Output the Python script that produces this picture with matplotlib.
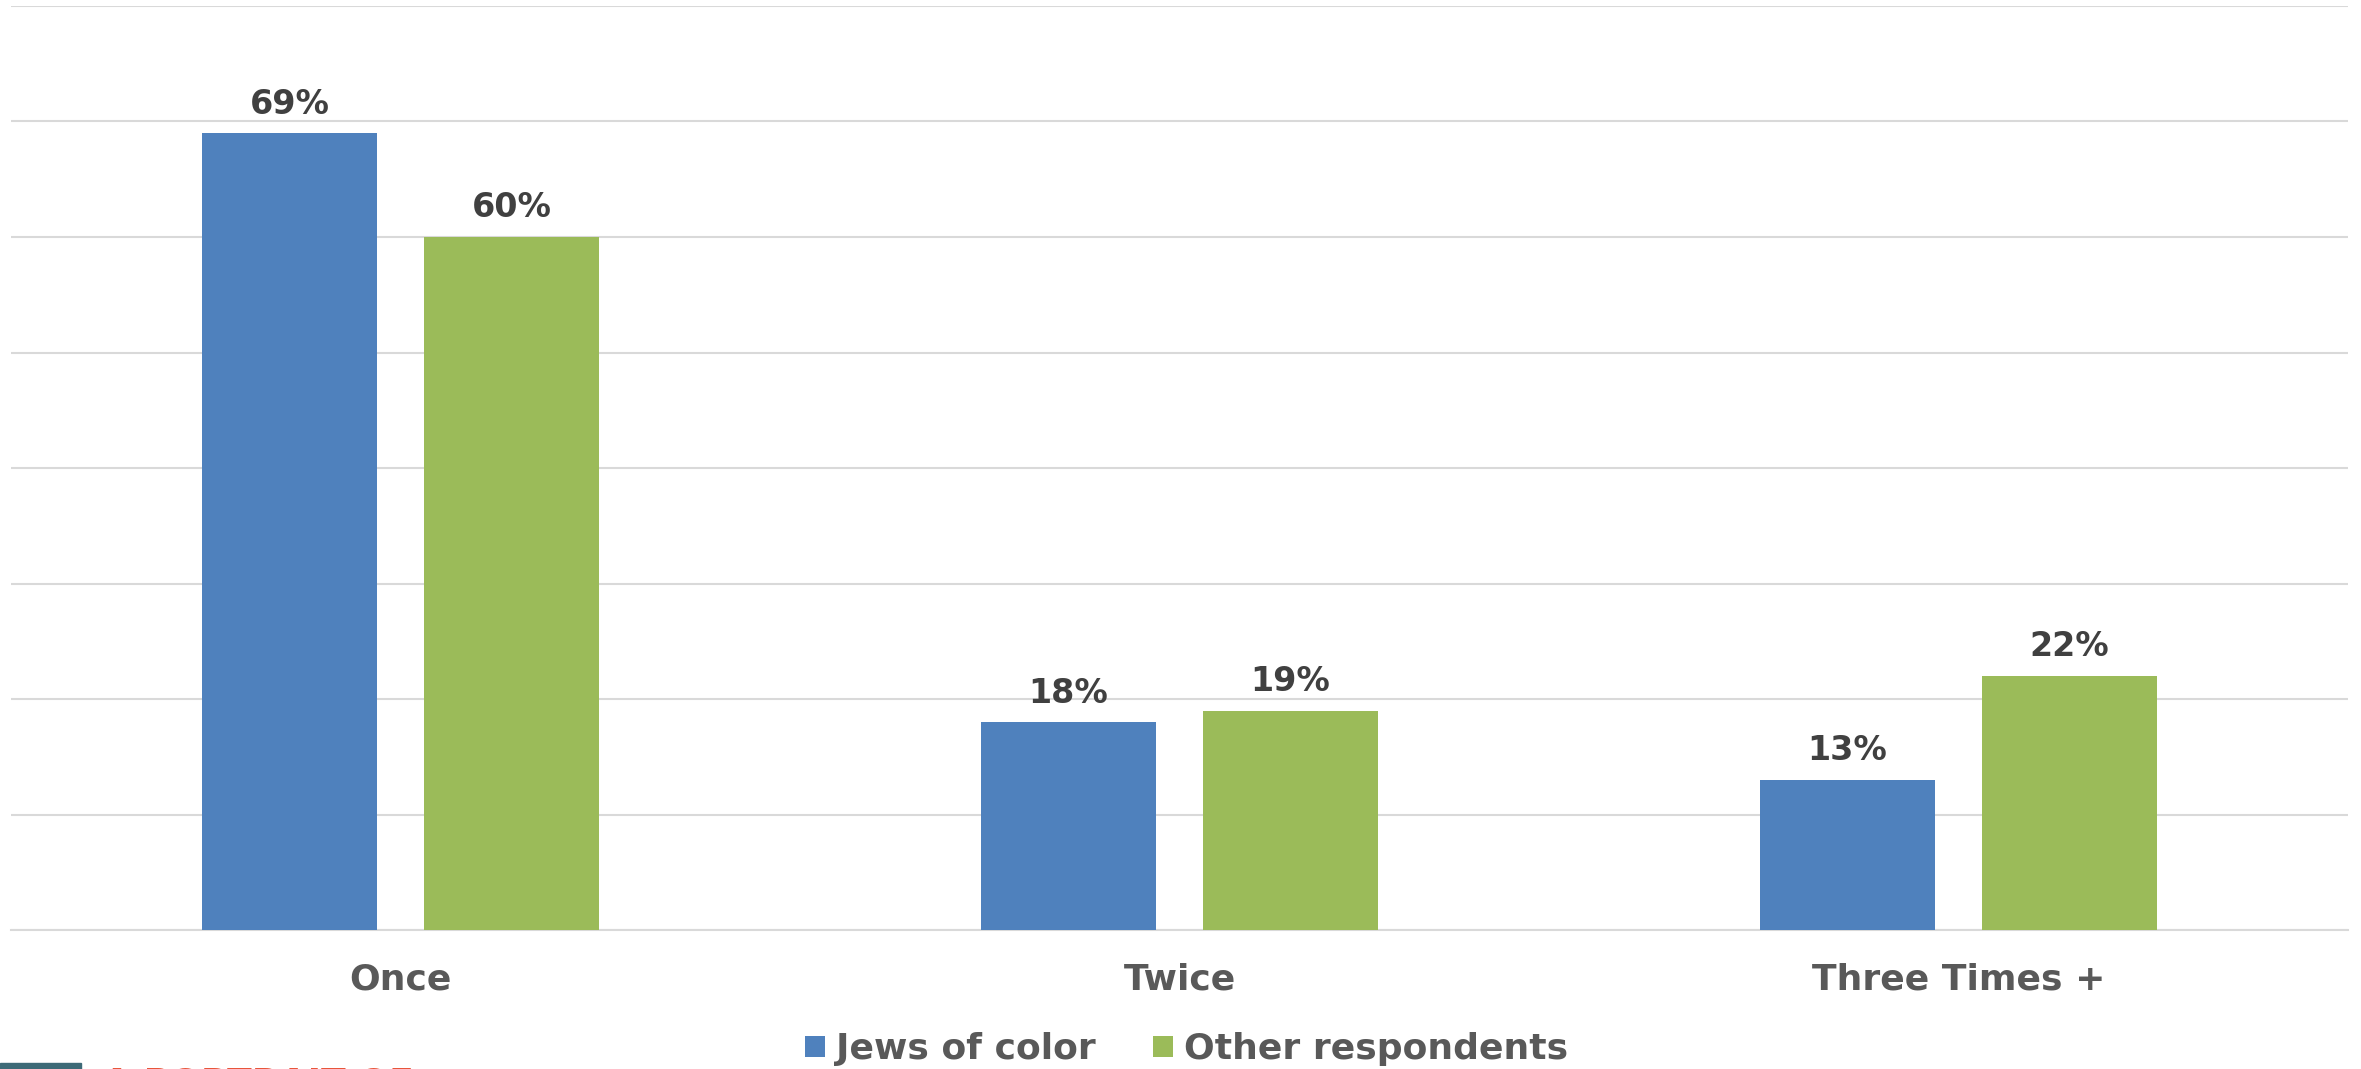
import matplotlib
matplotlib.use("Agg")
import matplotlib.pyplot as plt
import numpy as np

# data
categories = ["Once", "Twice", "Three Times +"]
series_names = ["Jews of color", "Other respondents"]
jews_of_color = [69, 18, 13]
other_respondents = [60, 19, 22]

blue = "#4F81BD"
green = "#9BBB59"
grid_col = "#D9D9D9"

plt.rcParams['font.family'] = ['DejaVu Sans']

fig = plt.figure(figsize=(23.61, 10.69), dpi=100)
ax = fig.add_axes([0.0047, 0.130, 0.9898, 0.8644])

x = np.arange(len(categories))
width = 0.225
offset = 0.1425

bars1 = ax.bar(x - offset, jews_of_color, width, color=blue, label=series_names[0], zorder=3)
bars2 = ax.bar(x + offset, other_respondents, width, color=green, label=series_names[1], zorder=3)

for bars, vals in [(bars1, jews_of_color), (bars2, other_respondents)]:
    for b, v in zip(bars, vals):
        ax.annotate("%d%%" % v, (b.get_x() + b.get_width() / 2, v),
                    xytext=(0, 9), textcoords="offset points",
                    ha="center", va="bottom", fontsize=24, fontweight="bold",
                    color="#404040", zorder=4)

ax.set_xlim(-0.5, 2.5)
ax.set_ylim(0, 80)
ax.set_yticks(np.arange(0, 81, 10))
ax.yaxis.grid(True, color=grid_col, linewidth=1.5, zorder=0)
ax.tick_params(axis="y", left=False, labelleft=False)
ax.set_xticks(x)
ax.set_xticklabels(categories, fontsize=26, fontweight="bold", color="#595959")
ax.tick_params(axis="x", bottom=False, pad=20)
for s in ["top", "right", "left"]:
    ax.spines[s].set_visible(False)
ax.spines["bottom"].set_color(grid_col)
ax.spines["bottom"].set_linewidth(1.5)

leg = fig.legend(loc="center", bbox_to_anchor=(0.5025, 0.0185), ncol=2, frameon=False,
                 prop={"size": 26, "weight": "bold"}, handlelength=0.55, handleheight=0.55,
                 handletextpad=0.3, columnspacing=1.6, borderpad=0, borderaxespad=0)
for t in leg.get_texts():
    t.set_color("#595959")

# cropped logo at the bottom left edge
fig.patches.append(plt.Rectangle((0, 0), 81 / 2361, 6 / 1069, transform=fig.transFigure,
                                 color="#3D6A77", zorder=5))
fig.text(103 / 2361, -0.0295, "A PORTRAIT OF", fontsize=26, fontweight="bold",
         color="#E8553A", va="bottom", ha="left")

plt.savefig("out.png", dpi=100)
